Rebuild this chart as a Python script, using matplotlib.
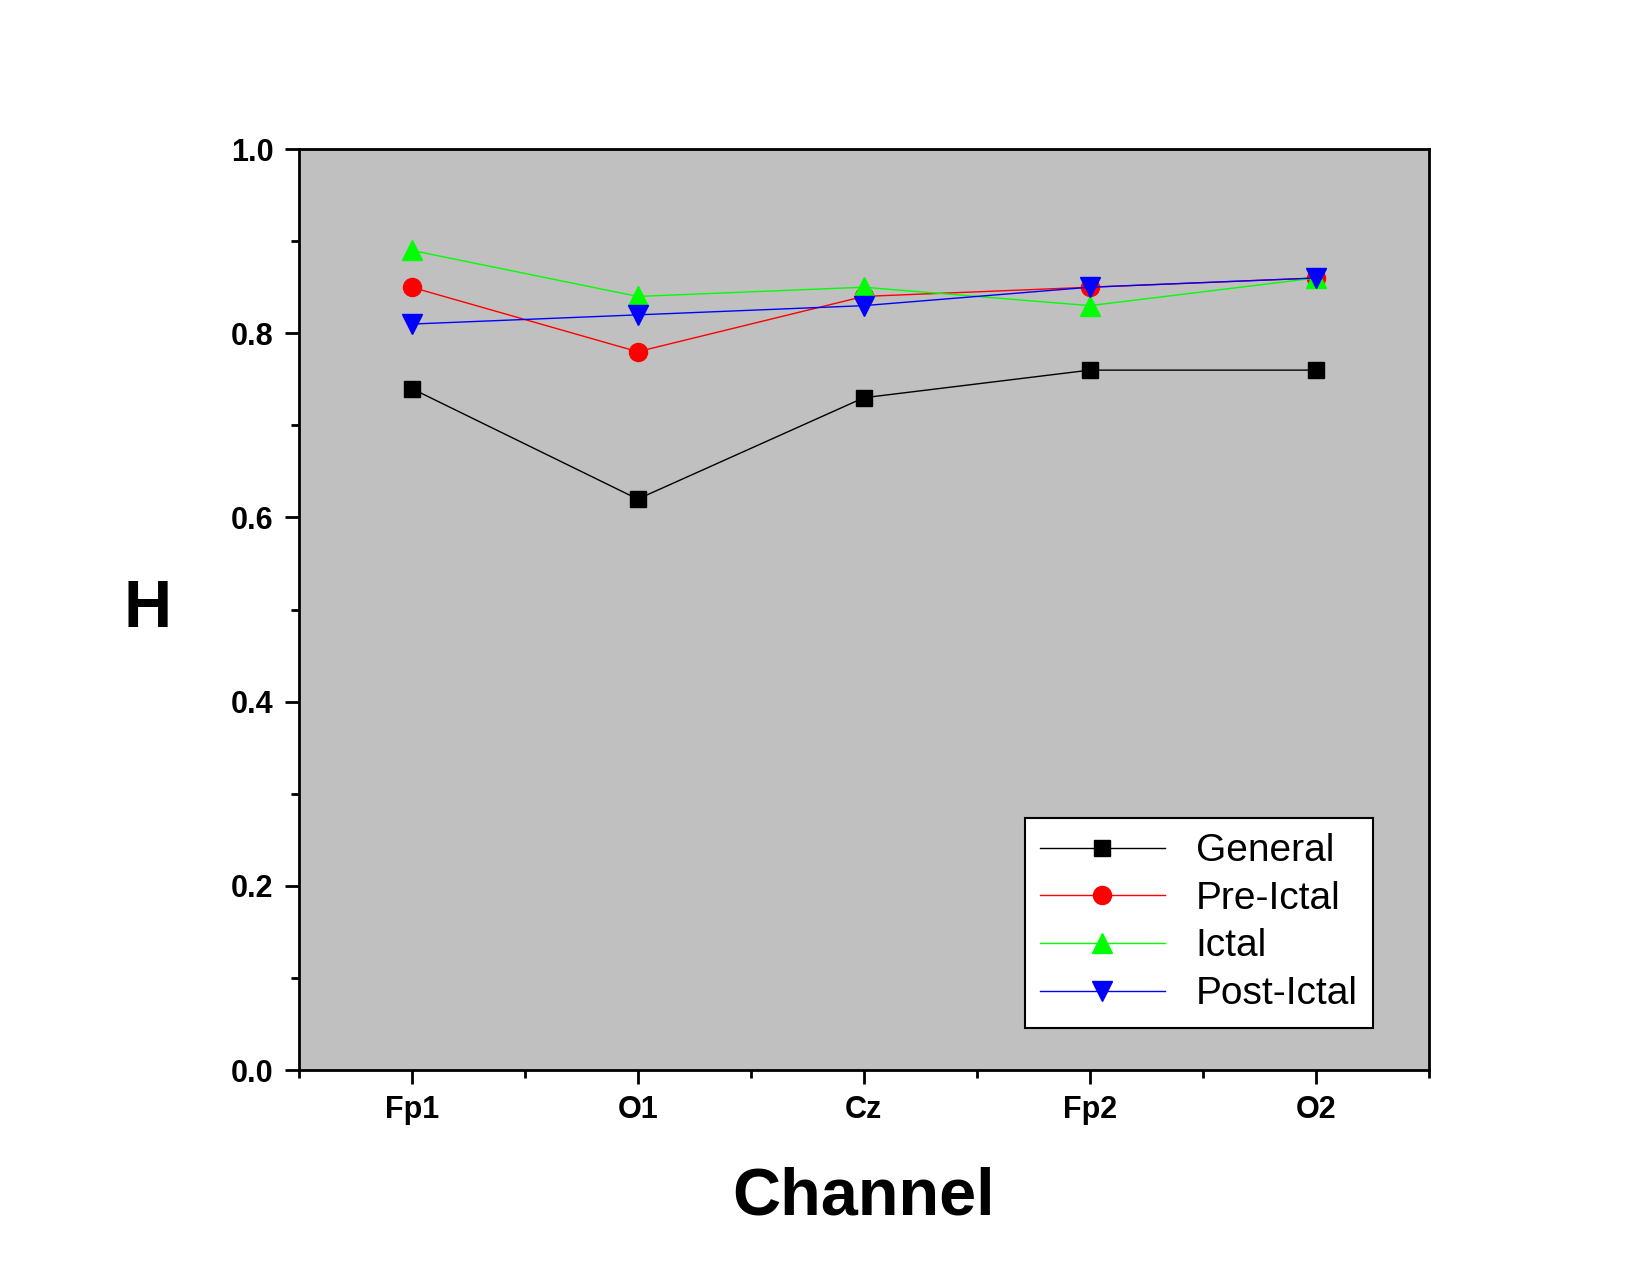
import matplotlib
matplotlib.use("Agg")
import matplotlib.pyplot as plt
from matplotlib.ticker import MultipleLocator

plt.rcParams['font.family'] = ['Liberation Sans', 'DejaVu Sans']

channels = ["Fp1", "O1", "Cz", "Fp2", "O2"]
general = [0.74, 0.62, 0.73, 0.76, 0.76]
pre_ictal = [0.85, 0.78, 0.84, 0.85, 0.86]
ictal = [0.89, 0.84, 0.85, 0.83, 0.86]
post_ictal = [0.81, 0.82, 0.83, 0.85, 0.86]

fig = plt.figure(figsize=(16.5, 12.74), dpi=100)
ax = fig.add_axes([0.181, 0.160, 0.685, 0.723])
ax.set_facecolor('#c0c0c0')
x = list(range(1, len(channels) + 1))
ax.plot(x, general, '-s', color='black', lw=1, ms=11, label='General')
ax.plot(x, pre_ictal, '-o', color='red', lw=1, ms=13, label='Pre-Ictal')
ax.plot(x, ictal, '-^', color='#00ff00', lw=1, ms=14, label='Ictal')
ax.plot(x, post_ictal, '-v', color='blue', lw=1, ms=14, label='Post-Ictal')

ax.set_xlim(0.5, 5.5)
ax.set_ylim(0.0, 1.0)
ax.set_xticks(x)
ax.set_xticklabels(channels)
ax.xaxis.set_minor_locator(MultipleLocator(0.5))
ax.yaxis.set_major_locator(MultipleLocator(0.2))
ax.yaxis.set_minor_locator(MultipleLocator(0.1))
ax.tick_params(which='both', direction='out', width=2, top=False, right=False)
ax.tick_params(which='major', length=10, labelsize=22, pad=8)
ax.tick_params(which='minor', length=6)
for lab in ax.get_xticklabels() + ax.get_yticklabels():
    lab.set_fontweight('bold')
for s in ax.spines.values():
    s.set_linewidth(2)
ax.set_xlabel('Channel', fontsize=48, fontweight='bold', labelpad=30)
ax.set_ylabel('H', fontsize=48, fontweight='bold', rotation=0, labelpad=60, va='center')

leg = ax.legend(loc='lower right', bbox_to_anchor=(0.968, 0.025), fontsize=28,
                frameon=True, fancybox=False, edgecolor='black', facecolor='white',
                framealpha=1, handlelength=3.2, borderpad=0.4, labelspacing=0.3)
leg.get_frame().set_linewidth(1.5)

fig.savefig('out.png', dpi=100)
